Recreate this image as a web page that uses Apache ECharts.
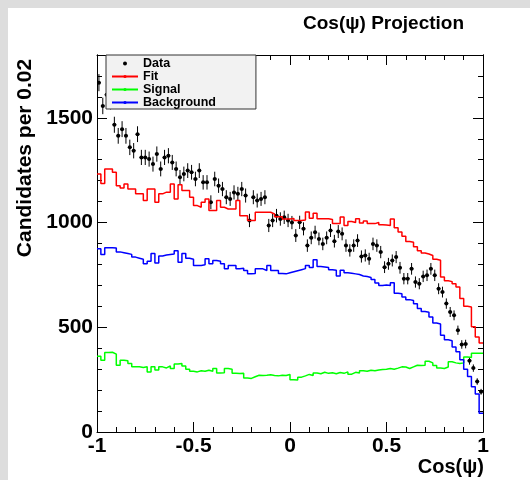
<!DOCTYPE html>
<html>
<head>
<meta charset="utf-8">
<script src="https://cdn.jsdelivr.net/npm/echarts@6/dist/echarts.min.js"></script>
<style>
  html, body { margin: 0; padding: 0; background: #dddddd; }
  #chart { position: absolute; left: 8px; top: 8px; width: 522px; height: 472px; background: #ffffff; }
</style>
</head>
<body>
<div id="chart"></div>
<script>
// 100 bins of width 0.02 on cos(psi) in [-1, 1]
const xMin = -1;
const binWidth = 0.02;

const dataCounts = [
  1668, 1557, 1610, 1580, 1467, 1414, 1446, 1414, 1359, 1343,
  1422, 1311, 1311, 1303, 1279, 1327, 1256, 1311, 1319, 1287,
  1256, 1216, 1232, 1248, 1240, 1208, 1248, 1192, 1192, 1097,
  1208, 1176, 1160, 1121, 1113, 1144, 1137, 1160, 1129, 1010,
  1121, 1105, 1113, 1121, 986, 1010, 1033, 1017, 1025, 1010,
  1000, 938, 1001, 970, 890, 927, 954, 922, 898, 927,
  962, 911, 957, 946, 890, 867, 890, 914, 838, 843,
  827, 898, 890, 859, 787, 803, 819, 835, 784, 732,
  732, 779, 716, 708, 743, 748, 779, 748, 684, 668,
  613, 573, 557, 486, 418, 420, 340, 305, 241, 192
];

const fitValues = [
  1232, 1187, 1256, 1256, 1240, 1176, 1165, 1184, 1160, 1160,
  1137, 1137, 1105, 1160, 1160, 1097, 1137, 1145, 1145, 1184,
  1113, 1181, 1153, 1153, 1121, 1081, 1073, 1097, 1113, 1057,
  1057, 1105, 1073, 1065, 1065, 1065, 1105, 1033, 1033, 1010,
  1010, 1049, 1049, 1049, 1049, 1041, 1028, 1028, 1017, 1017,
  1020, 1010, 1010, 1012, 1050, 1020, 1045, 1018, 1018, 1018,
  1015, 995, 995, 1026, 986, 1005, 1000, 1018, 998, 1008,
  995, 995, 1000, 990, 988, 986, 1017, 975, 955, 935,
  910, 906, 885, 865, 855, 850, 843, 825, 820, 740,
  722, 718, 708, 692, 637, 600, 597, 502, 454, 425
];

const signalValues = [
  362, 343, 379, 381, 372, 319, 343, 340, 327, 311,
  311, 308, 311, 287, 311, 296, 311, 306, 315, 303,
  325, 327, 315, 300, 290, 287, 292, 290, 295, 290,
  303, 282, 283, 303, 300, 280, 279, 280, 258, 256,
  264, 271, 270, 271, 273, 270, 268, 271, 270, 275,
  250, 248, 262, 268, 275, 270, 282, 278, 285, 280,
  283, 278, 284, 280, 287, 276, 285, 282, 292, 290,
  295, 292, 296, 298, 300, 303, 300, 305, 311, 310,
  303, 311, 319, 317, 319, 338, 330, 318, 305, 303,
  310, 335, 330, 327, 330, 358, 356, 376, 376, 376
];

const backgroundValues = [
  875, 848, 880, 880, 878, 860, 856, 852, 848, 835,
  830, 825, 803, 815, 852, 807, 840, 845, 848, 850,
  865, 811, 852, 830, 825, 795, 795, 798, 827, 803,
  819, 815, 803, 779, 795, 795, 779, 782, 771, 755,
  757, 779, 779, 771, 795, 771, 771, 757, 755, 760,
  765, 770, 775, 780, 795, 785, 822, 790, 788, 785,
  775, 772, 745, 772, 760, 758, 755, 752, 745, 742,
  738, 728, 712, 700, 702, 700, 713, 662, 660, 644,
  632, 628, 612, 590, 575, 572, 549, 520, 516, 462,
  440, 436, 406, 383, 345, 300, 265, 216, 182, 90
];

const xTickLabels = ['-1', '-0.5', '0', '0.5', '1'];
const yTickLabels = ['0', '500', '1000', '1500'];

const FONT = '"Liberation Sans", Arial, Helvetica, sans-serif';

function binEdge(i) {
  return +(xMin + binWidth * i).toFixed(4);
}

// histogram outline: one point per left bin edge plus the closing edge
function stepPoints(values) {
  const pts = values.map((v, i) => [binEdge(i), v]);
  pts.push([binEdge(values.length), values[values.length - 1]]);
  return pts;
}

// data points at bin centres with Poisson errors
const dataPoints = dataCounts.map((n, i) => [binEdge(i) + binWidth / 2, n, Math.sqrt(n)]);

function renderErrorPoint(params, api) {
  const x = api.value(0);
  const y = api.value(1);
  const e = api.value(2);
  const top = api.coord([x, y + e]);
  const bot = api.coord([x, y - e]);
  const left = api.coord([x - binWidth / 2, y]);
  const right = api.coord([x + binWidth / 2, y]);
  const c = api.coord([x, y]);
  const stroke = { stroke: '#000', lineWidth: 1 };
  return {
    type: 'group',
    children: [
      { type: 'line', shape: { x1: top[0], y1: top[1], x2: bot[0], y2: bot[1] }, style: stroke },
      { type: 'line', shape: { x1: left[0], y1: left[1], x2: right[0], y2: right[1] }, style: stroke },
      { type: 'circle', shape: { cx: c[0], cy: c[1], r: 2 }, style: { fill: '#000' } }
    ]
  };
}

const axisLine = { show: true, onZero: false, lineStyle: { color: '#000', width: 1 } };

function xAxisAt(position, showLabels) {
  return {
    type: 'value',
    position: position,
    min: -1,
    max: 1,
    interval: 0.5,
    axisLine: axisLine,
    axisTick: { inside: true, length: 10, lineStyle: { color: '#000' } },
    minorTick: { show: true, splitNumber: 5, length: 5, lineStyle: { color: '#000' } },
    splitLine: { show: false },
    axisLabel: {
      show: showLabels,
      margin: 4,
      fontSize: 21,
      fontWeight: 'bold',
      fontFamily: FONT,
      color: '#000',
      formatter: (v) => {
        const idx = Math.round((v + 1) / 0.5);
        return xTickLabels[idx] || '';
      }
    }
  };
}

function yAxisAt(position, interval, tickLen, showLabels) {
  return {
    type: 'value',
    position: position,
    min: 0,
    max: 1800,
    interval: interval,
    axisLine: axisLine,
    axisTick: { inside: true, length: tickLen, lineStyle: { color: '#000' } },
    splitLine: { show: false },
    axisLabel: {
      show: showLabels,
      margin: 4,
      fontSize: 21,
      fontWeight: 'bold',
      fontFamily: FONT,
      color: '#000',
      formatter: (v) => (v % 500 === 0 ? (yTickLabels[v / 500] || '') : '')
    }
  };
}

const chart = echarts.init(document.getElementById('chart'), null, { renderer: 'canvas' });

chart.setOption({
  animation: false,
  backgroundColor: '#ffffff',
  title: {
    text: 'Cos(\u03C8) Projection',
    left: 295,
    top: 6,
    padding: 0,
    textStyle: { fontSize: 19, fontWeight: 'bold', fontFamily: FONT, color: '#000' }
  },
  legend: {
    left: 98,
    top: 47,
    orient: 'vertical',
    selectedMode: false,
    itemGap: 0,
    itemWidth: 26,
    itemHeight: 4,
    padding: [2, 40, 0, 5],
    backgroundColor: '#f2f2f2',
    borderColor: '#333',
    borderWidth: 1,
    textStyle: { fontSize: 12.5, fontWeight: 'bold', lineHeight: 12, fontFamily: FONT, color: '#000' },
    data: [{ name: 'Data', icon: 'circle' }, 'Fit', 'Signal', 'Background']
  },
  grid: { left: 89, top: 47, width: 386, height: 377 },
  xAxis: [xAxisAt('bottom', true), xAxisAt('top', false)],
  yAxis: [
    yAxisAt('left', 500, 10, true),
    yAxisAt('left', 100, 5, false),
    yAxisAt('right', 500, 10, false),
    yAxisAt('right', 100, 5, false)
  ],
  graphic: [
    {
      type: 'text',
      x: 17,
      y: 150,
      rotation: Math.PI / 2,
      style: {
        text: 'Candidates per 0.02',
        font: 'bold 21px ' + FONT,
        fill: '#000',
        align: 'center',
        verticalAlign: 'middle'
      }
    },
    {
      type: 'text',
      x: 476,
      y: 459,
      style: {
        text: 'Cos(\u03C8)',
        font: 'bold 20px ' + FONT,
        fill: '#000',
        align: 'right',
        verticalAlign: 'middle'
      }
    }
  ],
  series: [
    {
      name: 'Fit',
      type: 'line',
      step: 'end',
      symbol: 'none',
      color: '#ff0000',
      lineStyle: { color: '#ff0000', width: 1.5 },
      data: stepPoints(fitValues)
    },
    {
      name: 'Signal',
      type: 'line',
      step: 'end',
      symbol: 'none',
      color: '#00ff00',
      lineStyle: { color: '#00ff00', width: 1.5 },
      data: stepPoints(signalValues)
    },
    {
      name: 'Background',
      type: 'line',
      step: 'end',
      symbol: 'none',
      color: '#0000ff',
      lineStyle: { color: '#0000ff', width: 1.5 },
      data: stepPoints(backgroundValues)
    },
    {
      name: 'Data',
      type: 'custom',
      itemStyle: { color: '#000' },
      encode: { x: 0, y: 1 },
      renderItem: renderErrorPoint,
      data: dataPoints,
      z: 3
    }
  ]
});
</script>
</body>
</html>
